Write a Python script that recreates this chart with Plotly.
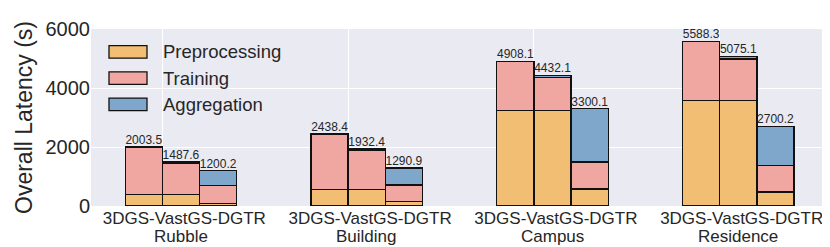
import plotly.graph_objects as go

groups = ["Rubble", "Building", "Campus", "Residence"]
methods = ["3DGS", "VastGS", "DGTR"]
method_label = "-".join(methods)

# values ordered group by group: 3DGS, VastGS, DGTR
preprocessing = [400, 400, 95, 550, 550, 150, 3240, 3240, 575, 3570, 3570, 470]
training = [1603.5, 1042.6, 600, 1888.4, 1337.4, 565, 1668.1, 1116.1, 920, 2018.3, 1410, 905]
aggregation = [0, 45, 505.2, 0, 45, 575.9, 0, 76, 1805.1, 0, 95.1, 1325.2]
totals = [2003.5, 1487.6, 1200.2, 2438.4, 1932.4, 1290.9, 4908.1, 4432.1, 3300.1, 5588.3, 5075.1, 2700.2]

series = [("Preprocessing", preprocessing, "#F1BE73"),
          ("Training", training, "#F1A7A1"),
          ("Aggregation", aggregation, "#7FA6CB")]

bar_w = 0.2
offsets = [-0.1, 0.1, 0.3]
xpos = [gi + offsets[mi] for gi in range(len(groups)) for mi in range(len(methods))]

FONT = "Liberation Sans, Arial, sans-serif"
TXT = "#262626"
EDGE = "#111111"

fig = go.Figure()
for name, vals, col in series:
    fig.add_trace(go.Bar(x=xpos, y=vals, width=bar_w, name=name,
                         marker=dict(color=col,
                                     line=dict(color=EDGE, width=[1.3 if v else 0 for v in vals])),
                         showlegend=False))

fig.add_trace(go.Scatter(x=xpos, y=totals, mode="text",
                         text=[f"{t:.1f}" for t in totals],
                         textposition="top center",
                         textfont=dict(family=FONT, size=12, color=TXT),
                         showlegend=False, hoverinfo="skip"))

L, R, T, B = 83, 10, 16, 49
W, H = 830, 247
pw, ph = W - L - R, H - T - B
def px_x(p):
    return (p - L) / pw
def px_y(p):
    return (H - B - p) / ph

shapes = []
annots = []
# manual legend (wide swatches like the reference)
for i, (name, _, col) in enumerate(series):
    cy = 39.5 + i * 27
    shapes.append(dict(type="rect", xref="paper", yref="paper",
                       x0=px_x(101), x1=px_x(139), y0=px_y(cy + 6.5), y1=px_y(cy - 6.5),
                       fillcolor=col, line=dict(color=EDGE, width=1.3)))
    annots.append(dict(xref="paper", yref="paper", x=px_x(153), y=px_y(cy),
                       xanchor="left", yanchor="middle", showarrow=False, text=name,
                       font=dict(family=FONT, size=18.5, color=TXT)))
# group names under the method labels
for gi, g in enumerate(groups):
    annots.append(dict(xref="x", yref="paper", x=gi + 0.1, y=px_y(218),
                       xanchor="center", yanchor="top", showarrow=False, text=g,
                       font=dict(family=FONT, size=17, color=TXT)))

fig.update_layout(
    width=W, height=H,
    margin=dict(l=L, r=R, t=T, b=B),
    barmode="stack",
    paper_bgcolor="white", plot_bgcolor="#EAEAF2",
    font=dict(family=FONT, color=TXT),
    shapes=shapes, annotations=annots,
    xaxis=dict(range=[-0.384, 3.583], tickmode="array",
               tickvals=list(range(len(groups))), ticktext=[method_label] * len(groups),
               ticklabelshift=22, ticklabelstandoff=0, ticklabeloverflow="allow",
               showgrid=True, gridcolor="white", gridwidth=1,
               zeroline=False, showline=False, ticks="",
               tickfont=dict(family=FONT, size=17, color=TXT)),
    yaxis=dict(range=[0, 6000], tickvals=[0, 2000, 4000, 6000],
               showgrid=True, gridcolor="white", gridwidth=1,
               zeroline=False, showline=False, ticks="",
               tickfont=dict(family=FONT, size=20, color=TXT),
               title=dict(text="Overall Latency (s)", standoff=6,
                          font=dict(family=FONT, size=23, color=TXT))),
)

fig.write_html("out.html")
